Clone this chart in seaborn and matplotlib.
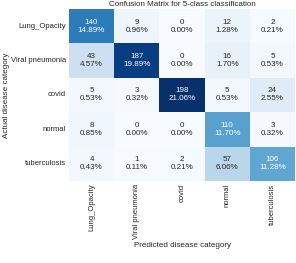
import numpy as np
import matplotlib
matplotlib.use('Agg')
import matplotlib.pyplot as plt
import seaborn as sns

sns.set()
plt.rcParams['font.family'] = ['Liberation Sans', 'DejaVu Sans']

#### DATA ####
labels = ['Lung_Opacity', 'Viral pneumonia', 'covid', 'normal', 'tuberculosis']
row_lung = [140, 9, 0, 12, 2]
row_viral = [43, 187, 0, 16, 5]
row_covid = [5, 3, 198, 5, 24]
row_normal = [8, 0, 0, 110, 3]
row_tb = [4, 1, 2, 57, 106]

cm = np.array([row_lung, row_viral, row_covid, row_normal, row_tb])
counts = ['{0:0.0f}'.format(v) for v in cm.flatten()]
pcts = ['{0:.2%}'.format(v) for v in cm.flatten() / np.sum(cm)]
annot = np.asarray([f'{c}\n{p}' for c, p in zip(counts, pcts)]).reshape(5, 5)

#### PLOT ####
fig = plt.figure(figsize=(2.96, 2.63), dpi=100)
ax = fig.add_axes([0.233, 0.312, 0.764, 0.654])
sns.heatmap(cm, annot=annot, fmt='', cmap='Blues', cbar=False, ax=ax,
            xticklabels=labels, yticklabels=labels,
            annot_kws={'fontsize': 5.8})
ax.set_title('Confusion Matrix for 5-class classification', fontsize=5.8, pad=2)
ax.set_xlabel('Predicted disease category', fontsize=5.8, labelpad=2)
ax.set_ylabel('Actual disease category', fontsize=5.8)
ax.yaxis.set_label_coords(-0.26, 0.5)
ax.tick_params(axis='both', labelsize=5.5, length=0, pad=2)
plt.setp(ax.get_xticklabels(), rotation=90)
plt.setp(ax.get_yticklabels(), rotation=0)

fig.savefig('out.png', dpi=100)
